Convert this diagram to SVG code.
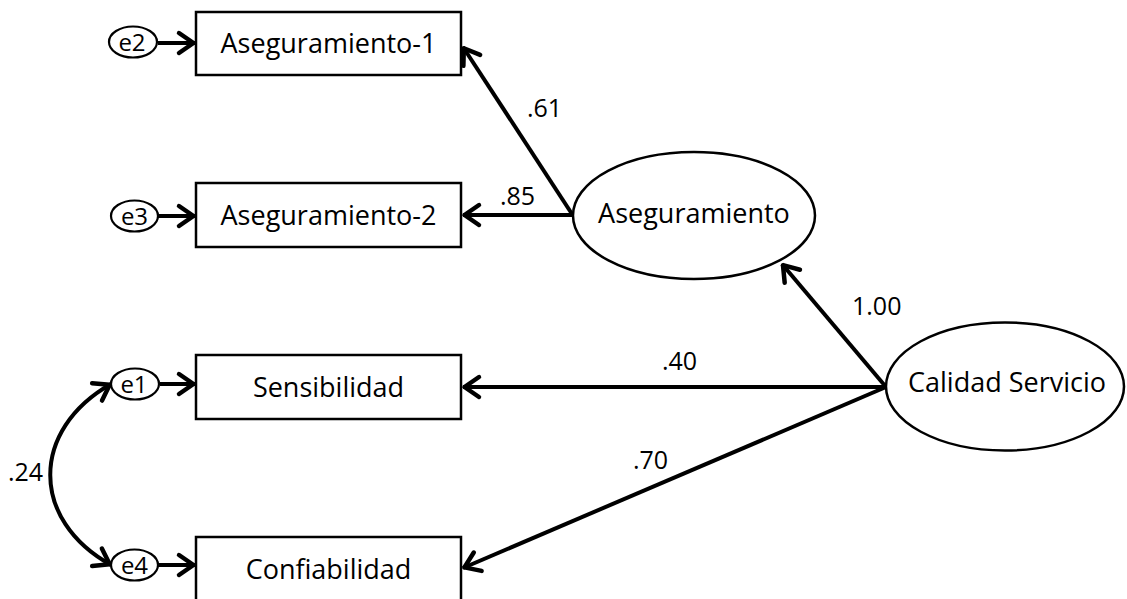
<svg xmlns="http://www.w3.org/2000/svg" width="1127" height="599" viewBox="0 0 1127 599">
<style>
  .box { fill: #ffffff; stroke: #000000; stroke-width: 2.5; }
  .lat { fill: #ffffff; stroke: #000000; stroke-width: 2.5; }
  .err { fill: #ffffff; stroke: #000000; stroke-width: 2.2; }
  .lbl { font-family: "Open Sans", "Liberation Sans", sans-serif; font-size: 27px; fill: #000000; text-anchor: middle; }
  .elbl { font-family: "Open Sans", "Liberation Sans", sans-serif; font-size: 24px; fill: #000000; text-anchor: middle; }
  .num { font-family: "Open Sans", "Liberation Sans", sans-serif; font-size: 25px; fill: #000000; }
  .conn { fill: none; stroke: #000000; stroke-width: 4; marker-end: url(#arr); }
</style>
<defs>
  <marker id="arr" markerUnits="userSpaceOnUse" markerWidth="34" markerHeight="34" viewBox="-24 -17 34 34" refX="0" refY="0" orient="auto-start-reverse">
    <path d="M -16,-10 L -1.5,0 L -16,10" fill="none" stroke="#000000" stroke-width="4.5" stroke-linecap="round" stroke-linejoin="round"/>
  </marker>
</defs>
<rect width="1127" height="599" fill="#ffffff"/>

<g id="connectors">
  <path class="conn" d="M 158,43 L 195,43"/>
  <path class="conn" d="M 158,216 L 195,216"/>
  <path class="conn" d="M 160,384 L 195,384"/>
  <path class="conn" d="M 158,565 L 195,565"/>
  <path class="conn" d="M 572,214 L 463,47"/>
  <path class="conn" d="M 572,215 L 463,215"/>
  <path class="conn" d="M 886,387 L 782,264"/>
  <path class="conn" d="M 886,387 L 463,387"/>
  <path class="conn" d="M 886,387 L 463,568"/>
  <path class="conn" d="M 111,384 C 30,430 30,520 111,565" marker-start="url(#arr)"/>
  <text class="num" x="527" y="117">.61</text>
  <text class="num" x="500" y="205">.85</text>
  <text class="num" x="852" y="315">1.00</text>
  <text class="num" x="662" y="370">.40</text>
  <text class="num" x="633" y="469">.70</text>
  <text class="num" x="8" y="481">.24</text>
</g>

<g id="e2">
  <ellipse class="err" cx="133" cy="42" rx="24" ry="15.5"/>
  <text class="elbl" x="132" y="51">e2</text>
</g>
<g id="e3">
  <ellipse class="err" cx="134.5" cy="216" rx="23.5" ry="15.5"/>
  <text class="elbl" x="134.5" y="225">e3</text>
</g>
<g id="e1">
  <ellipse class="err" cx="135" cy="384" rx="24" ry="15.5"/>
  <text class="elbl" x="134" y="393">e1</text>
</g>
<g id="e4">
  <ellipse class="err" cx="134.5" cy="565" rx="23.5" ry="15.5"/>
  <text class="elbl" x="134.5" y="574">e4</text>
</g>

<g id="aseguramiento1">
  <rect class="box" x="196" y="12" width="265" height="63"/>
  <text class="lbl" x="328.5" y="53">Aseguramiento-1</text>
</g>
<g id="aseguramiento2">
  <rect class="box" x="196" y="183" width="265" height="64"/>
  <text class="lbl" x="328.5" y="225">Aseguramiento-2</text>
</g>
<g id="sensibilidad">
  <rect class="box" x="196" y="355" width="265" height="64"/>
  <text class="lbl" x="328.5" y="397">Sensibilidad</text>
</g>
<g id="confiabilidad">
  <rect class="box" x="196" y="537" width="265" height="64"/>
  <text class="lbl" x="328.5" y="579">Confiabilidad</text>
</g>

<g id="aseguramiento">
  <ellipse class="lat" cx="694" cy="215.5" rx="121" ry="63.5"/>
  <text class="lbl" x="694" y="223">Aseguramiento</text>
</g>
<g id="calidad_servicio">
  <ellipse class="lat" cx="1005" cy="386.5" rx="119" ry="64"/>
  <text class="lbl" x="1007" y="392">Calidad Servicio</text>
</g>
</svg>
